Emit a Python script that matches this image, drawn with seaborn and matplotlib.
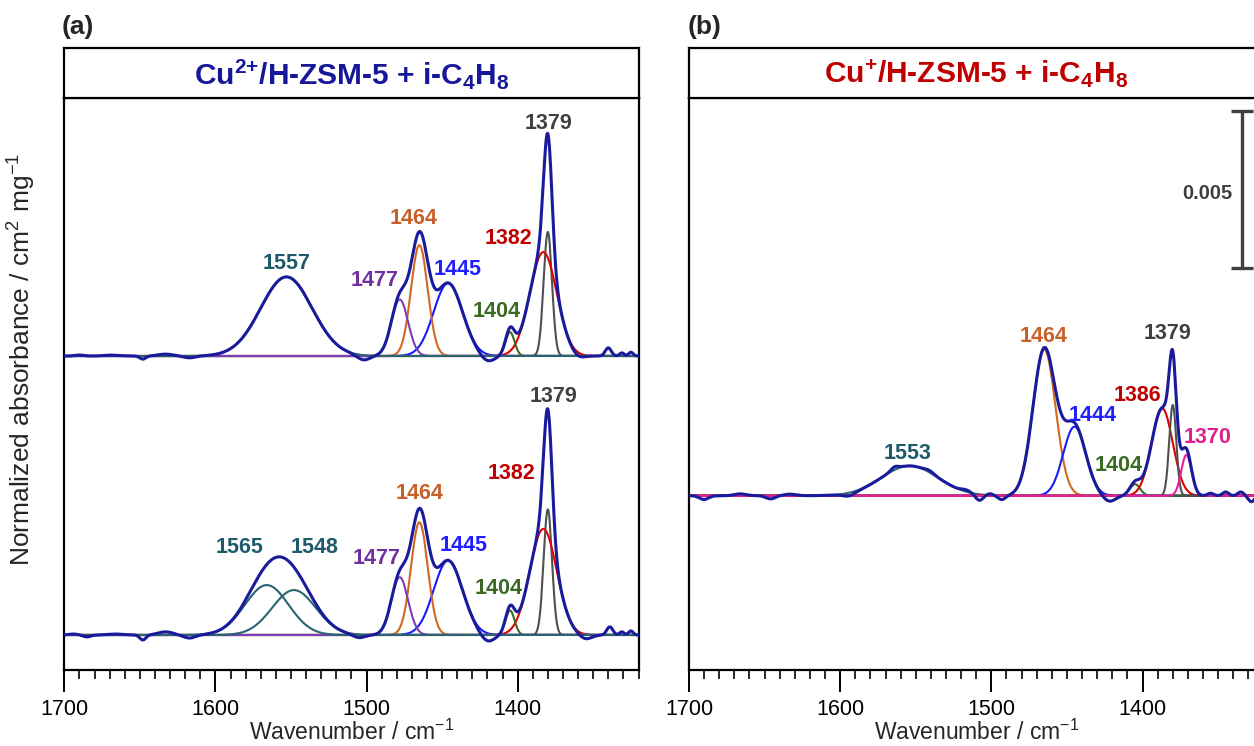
import numpy as np
import matplotlib
matplotlib.use("Agg")
import matplotlib.pyplot as plt
from matplotlib.ticker import MultipleLocator, FixedLocator
import seaborn as sns

# ---------------- data ----------------
# wavenumber grid
wavenumber = np.linspace(1320, 1700, 1901)

# Panel (a), upper spectrum: fitted Gaussian components
a_top_labels = ["1557", "1477", "1464", "1445", "1404", "1382", "1379"]
a_top_centers = [1553, 1478, 1465, 1446, 1405, 1383, 1380]
a_top_heights = [0.00252, 0.00180, 0.00353, 0.00232, 0.00076, 0.00331, 0.00395]
a_top_fwhm = [40, 13, 13, 22.5, 7, 21, 6.5]
# residual (measured - fit) features of upper spectrum: centre, amplitude, sigma
a_top_res_c = [1690, 1668, 1648, 1633, 1617, 1502, 1420, 1360, 1340, 1331, 1325]
a_top_res_a = [0.00003, 0.00003, -0.00010, 0.00006, -0.00006, -0.00015, -0.00020, -0.00010, 0.00026, 0.00010, 0.00012]
a_top_res_s = [3, 5, 2, 5, 4, 4, 4.5, 4, 2, 1.5, 1.5]

# Panel (a), lower spectrum
a_bot_labels = ["1565", "1548", "1477", "1464", "1445", "1404", "1382", "1379"]
a_bot_centers = [1566, 1548, 1478, 1465, 1446, 1405, 1383, 1380]
a_bot_heights = [0.00159, 0.00143, 0.00184, 0.00359, 0.00237, 0.00078, 0.00338, 0.00400]
a_bot_fwhm = [34, 34, 13, 13, 22.5, 7, 21, 6.5]
a_bot_res_c = [1694, 1685, 1666, 1648, 1633, 1617, 1505, 1420, 1355, 1339, 1331, 1325]
a_bot_res_a = [0.00003, -0.00006, 0.00003, -0.00016, 0.00010, -0.00010, -0.00010, -0.00024, -0.00014, 0.00026, 0.00010, 0.00013]
a_bot_res_s = [3, 2.5, 5, 2, 5, 4, 4, 4.5, 4, 2, 1.5, 1.5]

# Panel (b)
b_labels = ["1553", "1464", "1444", "1404", "1386", "1379", "1370"]
b_centers = [1554, 1465, 1445, 1405, 1387, 1380, 1371]
b_heights = [0.00095, 0.00466, 0.00220, 0.00037, 0.00278, 0.00289, 0.00130]
b_fwhm = [44, 17.6, 17.6, 8, 16.5, 5.5, 8]
b_res_c = [1690, 1666, 1646, 1633, 1594, 1564, 1541, 1517, 1508, 1501, 1493, 1422, 1355, 1345, 1335, 1328]
b_res_a = [-0.00012, 0.00006, -0.00010, 0.00005, -0.00010, 0.00010, 0.00006, 0.00006, -0.00019, 0.00005, -0.00013, -0.00019, 0.00008, 0.00012, 0.00012, -0.00019]
b_res_s = [3, 4, 3, 4, 4, 2.5, 3, 3, 2.5, 2, 2.5, 4, 2, 2, 2, 2]

scale_bar_value = 0.005

# ---------------- styles / layout ----------------
C_ENV = "#1a1a9c"
line_col = {"teal": "#2a6372", "purple": "#7a3fb0", "orange": "#d2691e", "blue": "#1a1aff",
            "green": "#3a6b24", "red": "#e00000", "gray": "#505050", "pink": "#ee1b9c"}
text_col = {"teal": "#1f5a6b", "purple": "#7030a0", "orange": "#c8602a", "blue": "#1f1fff",
            "green": "#3a6b24", "red": "#c00000", "gray": "#404040", "pink": "#e0208f"}
a_top_cols = ["teal", "purple", "orange", "blue", "green", "red", "gray"]
a_bot_cols = ["teal", "teal", "purple", "orange", "blue", "green", "red", "gray"]
b_cols = ["teal", "orange", "blue", "green", "red", "gray", "pink"]

# vertical offsets of the stacked spectra (layout)
OFF_A_TOP, OFF_A_BOT, OFF_B = 0.0100, 0.001115, 0.00555
YLIM = (0, 0.018217)

# label positions (wavenumber, y) for each peak label (layout)
a_top_lab_pos = [(1552.6, 0.01296), (1494.4, 0.01240), (1468.6, 0.01439), (1439.9, 0.01276),
                 (1413.8, 0.01141), (1406.2, 0.01375), (1379.7, 0.01741)]
a_bot_lab_pos = [(1583.7, 0.00389), (1534.7, 0.00389), (1493.3, 0.00356), (1465.1, 0.00563),
                 (1436.0, 0.00398), (1412.8, 0.00260), (1403.9, 0.00626), (1376.4, 0.00870)]
b_lab_pos = [(1555.3, 0.00690), (1465.8, 0.01061), (1432.8, 0.00810), (1415.7, 0.00651),
             (1403.2, 0.00873), (1383.4, 0.01072), (1356.8, 0.00740)]

sns.set_style("white")
plt.rcParams["font.family"] = ["Liberation Sans", "DejaVu Sans"]
plt.rcParams["mathtext.fontset"] = "custom"
plt.rcParams["mathtext.rm"] = "Liberation Sans"
plt.rcParams["mathtext.bf"] = "Liberation Sans:bold"
plt.rcParams["mathtext.it"] = "Liberation Sans:italic"

W, H = 1254, 746
fig = plt.figure(figsize=(W / 100, H / 100), dpi=100)


def gauss(x, c, h, fwhm):
    s = fwhm / 2.3548
    return h * np.exp(-0.5 * ((x - c) / s) ** 2)


def px_axes(x0, x1, y0, y1):
    return fig.add_axes([x0 / W, 1 - y1 / H, (x1 - x0) / W, (y1 - y0) / H])


def draw_spectrum(ax, centers, heights, fwhm, cols, rc, ra, rs, offset, reverse=False):
    comps = [gauss(wavenumber, c, h, f) for c, h, f in zip(centers, heights, fwhm)]
    fit = np.sum(comps, axis=0)
    resid = np.sum([gauss(wavenumber, c, a, s * 2.3548) for c, a, s in zip(rc, ra, rs)], axis=0)
    pairs = list(zip(comps, cols))
    if reverse:
        pairs = pairs[::-1]
    for comp, col in pairs:
        sns.lineplot(x=wavenumber, y=comp + offset, ax=ax, color=line_col[col], lw=1.5,
                     estimator=None, sort=False, zorder=2)
    sns.lineplot(x=wavenumber, y=fit + resid + offset, ax=ax, color=C_ENV, lw=2.2,
                 estimator=None, sort=False, zorder=3)


def label_peaks(ax, labels, positions, cols):
    for lab, (x, y), col in zip(labels, positions, cols):
        ax.text(x, y, lab, color=text_col[col], fontsize=15.5, fontweight="bold",
                ha="center", va="center", zorder=5)


def style_axes(ax):
    ax.set_xlim(1700, 1320)
    ax.set_ylim(*YLIM)
    ax.set_yticks([])
    ax.set_ylabel("")
    ax.xaxis.set_major_locator(FixedLocator([1700, 1600, 1500, 1400]))
    ax.xaxis.set_minor_locator(MultipleLocator(10))
    ax.tick_params(axis="x", which="major", direction="out", length=16, width=1.4,
                   labelsize=15.5, pad=5, bottom=True, top=False, colors="black")
    ax.tick_params(axis="x", which="minor", direction="out", length=6.5, width=1.4,
                   bottom=True, top=False)
    for sp in ax.spines.values():
        sp.set_linewidth(1.6)
        sp.set_color("black")
    ax.set_xlabel("Wavenumber / cm$^{-1}$", fontsize=16.5, labelpad=0)


def title_box(x0, x1, text, color):
    tb = px_axes(x0, x1, 47.7, 98)
    tb.set_xticks([])
    tb.set_yticks([])
    for sp in tb.spines.values():
        sp.set_linewidth(1.6)
        sp.set_color("black")
    tb.text(0.5, 0.48, text, color=color, fontsize=21.5, fontweight="bold",
            ha="center", va="center", transform=tb.transAxes)
    return tb


# ---------------- panel (a) ----------------
ax_a = px_axes(64.3, 638.5, 98, 670)
draw_spectrum(ax_a, a_top_centers, a_top_heights, a_top_fwhm, a_top_cols,
              a_top_res_c, a_top_res_a, a_top_res_s, OFF_A_TOP, reverse=True)
draw_spectrum(ax_a, a_bot_centers, a_bot_heights, a_bot_fwhm, a_bot_cols,
              a_bot_res_c, a_bot_res_a, a_bot_res_s, OFF_A_BOT, reverse=True)
label_peaks(ax_a, a_top_labels, a_top_lab_pos, a_top_cols)
label_peaks(ax_a, a_bot_labels, a_bot_lab_pos, a_bot_cols)
style_axes(ax_a)
title_box(64.3, 638.5, r"Cu$^{\mathbf{2}\mathbf{+}}$/H-ZSM-5 + i-C$_{\mathbf{4}}$H$_{\mathbf{8}}$", "#17179a")

# ---------------- panel (b) ----------------
ax_b = px_axes(689, 1263.5, 98, 670)
draw_spectrum(ax_b, b_centers, b_heights, b_fwhm, b_cols, b_res_c, b_res_a, b_res_s, OFF_B)
label_peaks(ax_b, b_labels, b_lab_pos, b_cols)
style_axes(ax_b)
title_box(689, 1263.5, r"Cu$^{\mathbf{+}}$/H-ZSM-5 + i-C$_{\mathbf{4}}$H$_{\mathbf{8}}$", "#c00000")

# scale bar
bar_mid = 0.015312
ax_b.errorbar([1334], [bar_mid], yerr=[scale_bar_value / 2], color="#404040", lw=2.4,
              capsize=8, capthick=2.4, zorder=6)
ax_b.text(1357.2, 0.01519, f"{scale_bar_value}", color="#404040", fontsize=14.5,
          fontweight="bold", ha="center", va="center")

# panel letters and y label
fig.text(62 / W, 1 - 27 / H, "(a)", fontsize=19, fontweight="bold", ha="left", va="center")
fig.text(688 / W, 1 - 27 / H, "(b)", fontsize=19, fontweight="bold", ha="left", va="center")
fig.text(22 / W, 1 - 359 / H, "Normalized absorbance / cm$^{2}$ mg$^{-1}$", fontsize=19,
         rotation=90, ha="center", va="center")

fig.savefig("out.png", dpi=100)
